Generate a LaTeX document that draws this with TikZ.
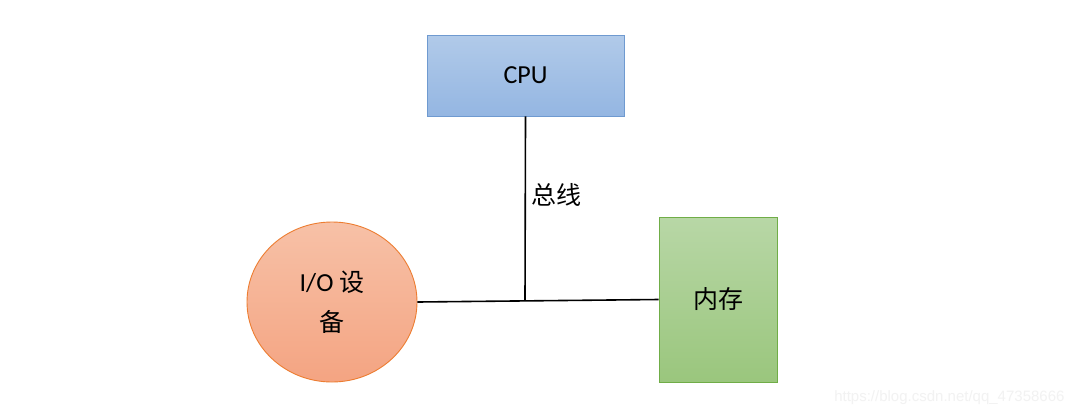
\documentclass[tikz,border=0pt]{standalone}
\usepackage{fontspec}
\setmainfont{Carlito}
\newfontfamily\cjk{Noto Sans CJK SC}
\newfontfamily\wmfont{Liberation Sans}
\usetikzlibrary{shapes.geometric}

\begin{document}
\begin{tikzpicture}[x=1pt,y=-1pt,
    unit/.style={draw,line width=0.9pt,inner sep=0pt,align=center,font=\fontsize{26}{30}\selectfont},
    cpubox/.style={unit,draw=cpuLine,top color=cpuTop,bottom color=cpuBot,
      minimum width=197pt,minimum height=81pt},
    iobox/.style={unit,ellipse,draw=ioLine,top color=ioTop,bottom color=ioBot,
      minimum width=170pt,minimum height=160pt},
    membox/.style={unit,draw=memLine,top color=memTop,bottom color=memBot,
      minimum width=118pt,minimum height=165pt},
    bus/.style={line width=1.6pt,black}
  ]
  \definecolor{cpuTop}{HTML}{B1CAE9}
  \definecolor{cpuBot}{HTML}{94B6E2}
  \definecolor{cpuLine}{HTML}{6F9AD0}
  \definecolor{ioTop}{HTML}{F7C1A7}
  \definecolor{ioBot}{HTML}{F4A482}
  \definecolor{ioLine}{HTML}{ED7D31}
  \definecolor{memTop}{HTML}{B8D7A6}
  \definecolor{memBot}{HTML}{9AC67D}
  \definecolor{memLine}{HTML}{70AD47}
  \useasboundingbox[fill=white] (0,0) rectangle (1075,416);
  \node[cpubox] (cpu) at (525.5,75.5) {CPU};
  \node[iobox] (io) at (332,302) {I/O {\cjk\fontsize{25}{30}\selectfont 设}\\[10pt]{\cjk\fontsize{25}{30}\selectfont 备}};
  \node[membox] (mem) at (718,299.5) {\cjk\fontsize{25}{30}\selectfont 内存};
  \coordinate (hub) at (525,300.6);
  % bus lines
  \draw[bus] (io.east) -- (mem.west);
  \draw[bus] (cpu.south) -- (hub);
  \node[font=\cjk\fontsize{25}{28}\selectfont,anchor=west] (buslabel) at (528,195) {总线};
  \node[font=\wmfont\fontsize{15}{18}\selectfont,text=black!5,anchor=east] (mark) at (1068,398) {https://blog.csdn.net/qq\_47358666};
\end{tikzpicture}
\end{document}
